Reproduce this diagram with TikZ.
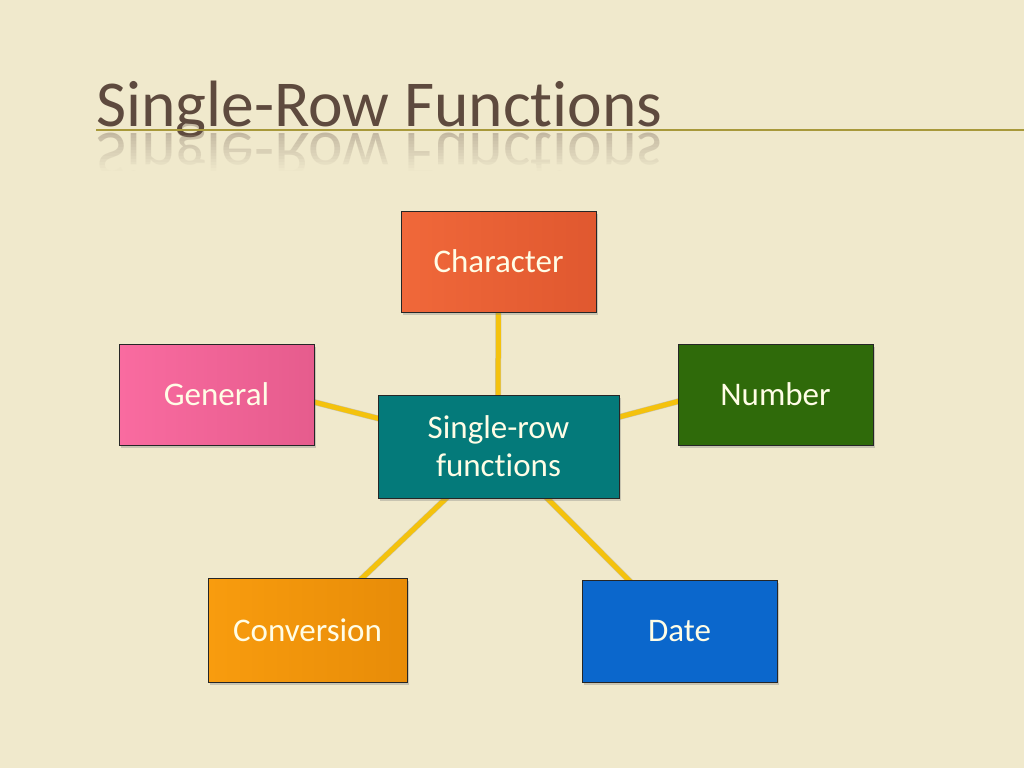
\documentclass[tikz,border=0pt]{standalone}
\usepackage{fontspec}
\setmainfont{Carlito}[Ligatures=NoCommon]
\usetikzlibrary{shadows,calc}
\definecolor{bgc}{HTML}{F0E9CC}
\definecolor{titlec}{HTML}{5E4A3E}
\definecolor{rulec}{HTML}{A8993A}
\definecolor{linkc}{HTML}{F4C20D}
\definecolor{charc}{HTML}{F0683A}
\definecolor{charc2}{HTML}{E0582F}
\definecolor{genc}{HTML}{F96BA0}
\definecolor{genc2}{HTML}{E65C8D}
\definecolor{numc}{HTML}{2F6A0A}
\definecolor{cenc}{HTML}{047A7A}
\definecolor{convc}{HTML}{F89C0E}
\definecolor{convc2}{HTML}{E88C08}
\definecolor{datec}{HTML}{0B67CC}
\definecolor{txtc}{HTML}{FFFDE6}
\pgfdeclarelayer{bglayer}
\pgfdeclarelayer{linklayer}
\pgfsetlayers{bglayer,linklayer,main}
\tikzset{
  box/.style={draw=black!85, line width=0.8pt, minimum width=195pt, minimum height=101pt,
    text=txtc, font=\fontsize{33pt}{38pt}\selectfont, align=center,
    drop shadow={shadow xshift=2pt, shadow yshift=-3pt, opacity=0.35}},
  link/.style={draw=linkc, line width=5pt},
  linkshadow/.style={draw=black, opacity=0.16, line width=6pt},
  titlefont/.style={font=\fontsize{65.5pt}{70pt}\selectfont, text=titlec, inner sep=0pt}
}
\begin{document}
\begin{tikzpicture}[x=1pt,y=-1pt]
\useasboundingbox (0,0) rectangle (1024,768);
\begin{pgfonlayer}{bglayer}
\fill[bgc] (0,0) rectangle (1024,768);
\end{pgfonlayer}
% title
\node[titlefont, anchor=base west] (title) at (96,126) {Single-Row Functions};
\node[titlefont, anchor=base west, yscale=-1, opacity=0.3] (titlerefl) at (96,133) {Single-Row Functions};
\foreach \i in {0,...,13} {
  \fill[bgc, opacity={min(1,0.12+\i*0.075)}] (90,{135+\i*3}) rectangle (680,{138+\i*3});
}
\fill[bgc] (90,177) rectangle (680,185);
\coordinate (rs) at (96,130);
\coordinate (re) at (1024,130);
\draw[rulec, line width=2.2pt] (rs) -- (re);
% nodes
\node[box, left color=charc, right color=charc2] (char) at (498.5,261.5) {Character};
\node[box, left color=genc, right color=genc2] (gen) at (216.5,394.5) {General};
\node[box, fill=numc] (num) at (775.5,394.5) {Number};
\node[box, left color=convc, right color=convc2, minimum width=199pt, minimum height=104pt] (conv) at (307.5,630) {Conversion};
\node[box, fill=datec, minimum height=102pt] (date) at (679.5,631) {Date};
\node[box, fill=cenc, minimum width=241pt, minimum height=103pt] (cen) at (498.5,446.5) {Single-row\\ functions};
\coordinate (hub) at (498,449);
\coordinate (genend) at (216,377);
\coordinate (numend) at (778,375);
% links
\begin{pgfonlayer}{linklayer}
\begin{scope}[shift={(2,3)}]
\draw[linkshadow] (hub) -- (char.center);
\draw[linkshadow] (hub) -- (genend);
\draw[linkshadow] (hub) -- (numend);
\draw[linkshadow] (hub) -- (conv.center);
\draw[linkshadow] (hub) -- (date.center);
\end{scope}
\draw[link] (hub) -- (char.center);
\draw[link] (hub) -- (genend);
\draw[link] (hub) -- (numend);
\draw[link] (hub) -- (conv.center);
\draw[link] (hub) -- (date.center);
\end{pgfonlayer}
\end{tikzpicture}
\end{document}
